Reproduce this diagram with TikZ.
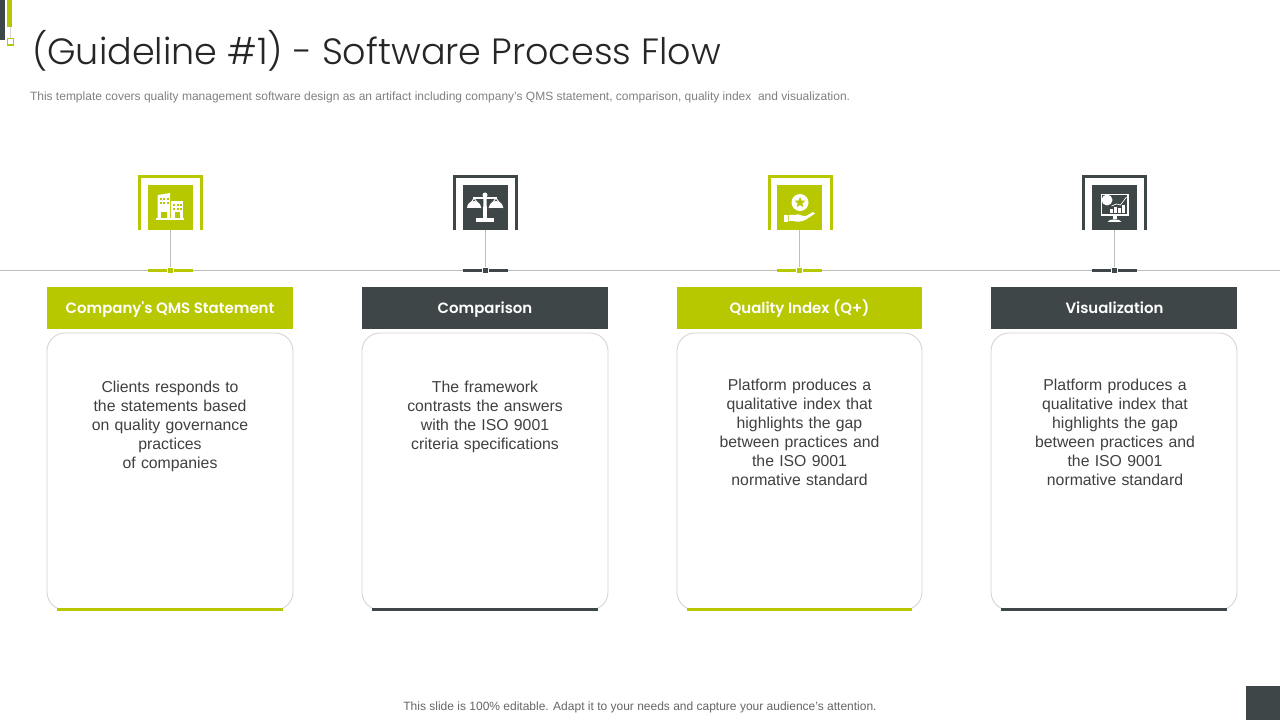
\documentclass[tikz,border=0pt]{standalone}
\usepackage{fontspec}
\setmainfont{Liberation Sans}
\newfontfamily\titlefont{Poppins Light}
\newfontfamily\headfont{Poppins SemiBold}
\usetikzlibrary{shapes.geometric}
\definecolor{lime}{HTML}{B7C800}
\definecolor{slate}{HTML}{3F4648}
\definecolor{rulegray}{HTML}{BDBDBD}
\definecolor{cardline}{HTML}{D4D4D4}
\definecolor{bodytext}{HTML}{404040}
\tikzset{
  x=0.75pt,y=-0.75pt,
  every node/.style={inner sep=0pt,outer sep=0pt},
  header/.style={minimum height=31.5pt},
  headtext/.style={text=white,anchor=base,font=\headfont\fontsize{11.2}{14}\selectfont},
  card/.style={draw=cardline,line width=0.65pt,rounded corners=13.5pt,fill=white},
  bodytxt/.style={align=center,text=bodytext,font=\fontsize{11.85}{14.3}\selectfont,text width=170pt},
  bracket/.style={line width=2.25pt,line cap=butt},
  iconbox/.style={minimum width=33.75pt,minimum height=33.75pt},
  stem/.style={draw=rulegray,line width=0.6pt},
  hub/.style={minimum width=4.5pt,minimum height=4.5pt,draw=white,line width=0.5pt},
}
\newcommand{\column}[4]{% id, x centre, half width in px, colour
  \node[header,fill=#4,minimum width={1.5pt*#3}] (head#1) at (#2,308) {};
  \draw[card] (#2-#3,333) rectangle (#2+#3,610);
  \draw[#4,line width=2.25pt] (#2-#3+10,609) -- (#2+#3-10,609);
  \draw[#4,bracket] (#2-30.5,230) -- (#2-30.5,176.5) -- (#2+31.5,176.5) -- (#2+31.5,230);
  \node[iconbox,fill=#4] (icon#1) at (#2,207.5) {};
  \draw[#4,line width=2.25pt] (#2-22.5,270) -- (#2+22.5,270);
  \node[hub,fill=#4] (hub#1) at (#2,270) {};
  \draw[stem] (icon#1.south) -- (hub#1.north);
}
\begin{document}
\begin{tikzpicture}
\useasboundingbox (0,0) rectangle (1280,720);
\fill[white] (0,0) rectangle (1280,720);
% corner decoration
\fill[slate] (0,0) rectangle (5,40);
\fill[lime] (7,0) rectangle (12,27);
\draw[cardline,line width=0.5pt] (10,27) -- (10,38);
\draw[lime,line width=0.8pt] (7.5,38.5) rectangle (13.5,45);
\fill[slate] (1246,686) rectangle (1280,720);
% title
\node[anchor=west,text=black!85,font=\titlefont\fontsize{27.4}{32}\selectfont] (title) at (32,51) {(Guideline \#1) - Software Process Flow};
\node[anchor=west,text=black!50,font=\fontsize{9}{11}\selectfont] (sub) at (30,97) {This template covers quality management software design as an artifact including company's QMS statement, comparison, quality index\ \ and visualization.};
% rule
\coordinate (ruleL) at (0,270);
\coordinate (ruleR) at (1280,270);
\draw[rulegray,line width=0.6pt] (ruleL) -- (ruleR);
% columns
\column{a}{170}{123}{lime}
\column{b}{485}{123}{slate}
\column{c}{799.5}{122.5}{lime}
\column{d}{1114}{123}{slate}
\node[headtext] (ta) at (170,313) {Company's QMS Statement};
\node[headtext] (tb) at (485,313) {Comparison};
\node[headtext] (tc) at (799.5,313) {Quality Index (Q+)};
\node[headtext] (td) at (1114.5,313) {Visualization};
% body
\node[bodytxt,anchor=north] (ba) at (170,380.6) {Clients responds to\\the statements based\\on quality governance\\practices\\of companies};
\node[bodytxt,anchor=north] (bb) at (485,380.6) {The framework\\contrasts the answers\\with the ISO 9001\\criteria specifications};
\node[bodytxt,anchor=north] (bc) at (799.5,378.6) {Platform produces a\\qualitative index that\\highlights the gap\\between practices and\\the ISO 9001\\normative standard};
\node[bodytxt,anchor=north] (bd) at (1115,378.6) {Platform produces a\\qualitative index that\\highlights the gap\\between practices and\\the ISO 9001\\normative standard};
% footer
\node[text=black!60,font=\fontsize{9}{11}\selectfont] (foot) at (640,707) {This slide is 100\% editable. Adapt it to your needs and capture your audience's attention.};
% icon a: buildings
\begin{scope}[shift={(170,207)}]
  \fill[white] (-12.3,-12) -- (0,-14) -- (0,12) -- (-12.3,12) -- cycle;
  \fill[white] (1,-6) -- (13.3,-6) -- (13.3,12) -- (1,12) -- cycle;
  \fill[white] (-14,11.5) rectangle (14,13);
  \fill[lime] (-9,5) rectangle (-3,11.5);
  \fill[lime] (5,5) rectangle (10,11.5);
  \foreach \x in {-10.5,-7,-3.5}\foreach \y in {-9,-5}{\fill[lime] (\x,\y) rectangle ++(2.2,2.2);}
  \foreach \x in {3,6.5,10}\foreach \y in {-3,1}{\fill[lime] (\x,\y) rectangle ++(2.2,2.2);}
\end{scope}
% icon b: scales
\begin{scope}[shift={(485,207)},white]
  \fill (0,-12) circle (2.5);
  \fill (-1.5,-12) -- (1.5,-12) -- (2,11) -- (-2,11) -- cycle;
  \fill (-9,11) rectangle (9,15);
  \draw[line width=1.5pt] (-12,-9) -- (12,-9);
  \draw[line width=0.7pt] (-11,-9) -- (-17,1) (-11,-9) -- (-4,1) (11,-9) -- (4,1) (11,-9) -- (18,1);
  \fill (-18,1) arc[start angle=180,end angle=360,radius=7] -- cycle;
  \fill (4,1) arc[start angle=180,end angle=360,radius=7] -- cycle;
\end{scope}
% icon c: hand with star
\begin{scope}[shift={(800,207)}]
  \fill[white] (0,-4.5) circle (8.5);
  \node[star,star points=5,star point ratio=2.3,minimum size=8.5pt,fill=lime] (starc) at (0,-4.5) {};
  \fill[white] (-16,8) rectangle (-12.5,15);
  \fill[white] (-11.5,8) -- (-6,8) .. controls (-3,6.5) and (0,7.5) .. (3,9) -- (6,9) -- (13,5) -- (15,6.5) -- (6,12.5) .. controls (2,15) and (-3,15) .. (-7,14) -- (-11.5,14) -- cycle;
\end{scope}
% icon d: monitor
\begin{scope}[shift={(1114.5,207)},white]
  \draw[line width=0.9pt] (-13,-12.5) rectangle (13.5,8);
  \fill (-7.5,-7) circle (5.5);
  \foreach \x/\h in {-4.5/4,-0.5/6,3.5/5,7.5/8.5}{\fill (\x,6.5) rectangle ++(3,-\h);}
  \draw[line width=0.5pt] (-3,-1) -- (2,-3) -- (6,-2) -- (12,-10);
  \fill (-2,8) rectangle (2,12);
  \fill (-7,15) .. controls (-6,11.5) and (6,11.5) .. (7,15) -- cycle;
\end{scope}
\end{tikzpicture}
\end{document}
